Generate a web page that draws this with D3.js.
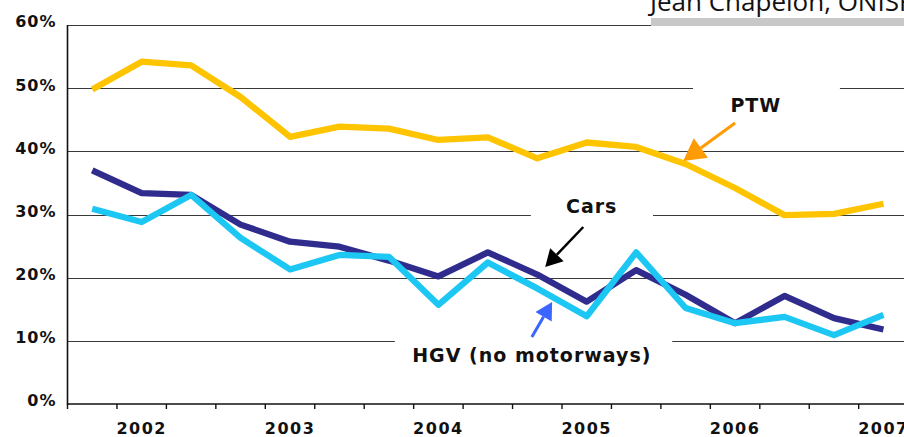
<!DOCTYPE html>
<html>
<head>
<meta charset="utf-8">
<script src="https://cdn.jsdelivr.net/npm/d3@7"></script>
<style>
  body { margin: 0; background: #fff; }
  svg { display: block; }
  .tick-label { font-family: 'DejaVu Sans', Verdana, sans-serif; font-weight: bold; fill: #111; }
  .note { font-family: 'DejaVu Sans', Verdana, sans-serif; font-weight: bold; fill: #111; }
</style>
</head>
<body>
<svg id="chart"></svg>
<script>
// periods (thirds of a year), 2001 T3 .. 2007 T1
const periods = ['2001-T3',
  '2002-T1','2002-T2','2002-T3',
  '2003-T1','2003-T2','2003-T3',
  '2004-T1','2004-T2','2004-T3',
  '2005-T1','2005-T2','2005-T3',
  '2006-T1','2006-T2','2006-T3',
  '2007-T1'];
const yearLabels = ['2002','2003','2004','2005','2006','2007'];
const yTicks = [0, 0.1, 0.2, 0.3, 0.4, 0.5, 0.6];

const ptw  = [49.8, 54.2, 53.6, 48.6, 42.3, 43.9, 43.6, 41.8, 42.2, 38.9, 41.4, 40.7, 38.0, 34.2, 29.9, 30.1, 31.7];
const cars = [37.0, 33.4, 33.1, 28.4, 25.7, 24.9, 22.7, 20.2, 24.0, 20.5, 16.2, 21.2, 17.3, 12.8, 17.1, 13.6, 11.8];
const hgv  = [30.9, 28.8, 33.1, 26.3, 21.3, 23.6, 23.3, 15.7, 22.4, 18.3, 13.9, 24.0, 15.2, 12.8, 13.8, 10.9, 14.1];

const series = [
  { name: 'PTW',  values: ptw,  color: '#FFC400' },
  { name: 'Cars', values: cars, color: '#2F2C8E' },
  { name: 'HGV',  values: hgv,  color: '#1DC7F3' }
];

const W = 904, H = 437;
const plotLeft = 67.5, plotTop = 25, plotBottom = 404;
const step = 49.45;

const svg = d3.select('#chart').attr('width', W).attr('height', H);

const x = d3.scaleBand()
  .domain(periods)
  .range([plotLeft, plotLeft + step * periods.length])
  .padding(0);

const y = d3.scaleLinear()
  .domain([0, 0.6])
  .range([plotBottom, plotTop]);

// fractional period index -> pixel (for annotations)
const xi = i => x(periods[0]) + (i + 0.5) * x.bandwidth();

// gridlines
svg.append('g')
  .selectAll('line')
  .data(yTicks.filter(d => d > 0))
  .join('line')
    .attr('x1', plotLeft).attr('x2', W)
    .attr('y1', d => Math.round(y(d)) + 0.5)
    .attr('y2', d => Math.round(y(d)) + 0.5)
    .attr('stroke', '#3a3a3a')
    .attr('stroke-width', 1.2);

// white boxes behind the annotations (they cut the gridlines)
const boxes = [
  { i0: 12.15, i1: 15.12, v0: 0.455, v1: 0.515 },
  { i0: 8.87,  i1: 11.34, v0: 0.29,  v1: 0.325 },
  { i0: 6.12,  i1: 11.73, v0: 0.055, v1: 0.12 }
];
svg.append('g')
  .selectAll('rect')
  .data(boxes)
  .join('rect')
    .attr('x', d => xi(d.i0))
    .attr('width', d => xi(d.i1) - xi(d.i0))
    .attr('y', d => y(d.v1))
    .attr('height', d => y(d.v0) - y(d.v1))
    .attr('fill', '#fff');

// source credit, cut off at top right
svg.append('rect')
  .attr('x', 651).attr('y', 18).attr('width', W - 651).attr('height', 8)
  .attr('fill', '#c8c8c8');
svg.append('text')
  .attr('x', 650).attr('y', 11)
  .style('font-family', "'Open Sans', sans-serif")
  .style('font-size', '26px')
  .attr('fill', '#111')
  .text('Jean Chapelon, ONISR');

// y axis
const yAxis = d3.axisLeft(y)
  .tickValues(yTicks)
  .tickFormat(d3.format('.0%'))
  .tickSize(0)
  .tickPadding(11);
const gy = svg.append('g')
  .attr('transform', `translate(${plotLeft},0)`)
  .call(yAxis);
gy.select('.domain').remove();
gy.selectAll('text')
  .attr('class', 'tick-label')
  .attr('dy', '0.12em')
  .style('font-size', '16px')
  .style('letter-spacing', '1px');

svg.append('line')
  .attr('x1', plotLeft).attr('x2', plotLeft)
  .attr('y1', plotTop).attr('y2', plotBottom + 1)
  .attr('stroke', '#111').attr('stroke-width', 1.6);

// x axis: ticks on the period boundaries, year labels under the first third
svg.append('line')
  .attr('x1', plotLeft).attr('x2', W)
  .attr('y1', plotBottom).attr('y2', plotBottom)
  .attr('stroke', '#111').attr('stroke-width', 1.6);

svg.append('g')
  .selectAll('line')
  .data(periods)
  .join('line')
    .attr('x1', d => x(d)).attr('x2', d => x(d))
    .attr('y1', plotBottom).attr('y2', plotBottom + 5)
    .attr('stroke', '#111').attr('stroke-width', 1.4);

const xAxis = d3.axisBottom(x)
  .tickValues(periods.filter(p => p.endsWith('T1')))
  .tickFormat(p => yearLabels[yearLabels.indexOf(p.slice(0, 4))])
  .tickSize(0)
  .tickPadding(19);
const gx = svg.append('g')
  .attr('transform', `translate(0,${plotBottom})`)
  .call(xAxis);
gx.select('.domain').remove();
gx.selectAll('text')
  .attr('class', 'tick-label')
  .style('font-size', '16px')
  .style('letter-spacing', '1.5px');

// lines
const line = d3.line()
  .x((d, i) => x(periods[i]) + x.bandwidth() / 2)
  .y(d => y(d / 100));

svg.append('g')
  .selectAll('path')
  .data(series)
  .join('path')
    .attr('d', d => line(d.values))
    .attr('fill', 'none')
    .attr('stroke', d => d.color)
    .attr('stroke-width', 6.3)
    .attr('stroke-linejoin', 'round')
    .attr('stroke-linecap', 'butt');

// annotations
const notes = [
  { text: 'PTW', i: 13.42, v: 0.4623, size: 19 },
  { text: 'Cars', i: 10.10, v: 0.3024, size: 19 },
  { text: 'HGV (no motorways)', i: 8.89, v: 0.0665, size: 19 }
];
svg.append('g')
  .selectAll('text')
  .data(notes)
  .join('text')
    .attr('class', 'note')
    .attr('x', d => xi(d.i))
    .attr('y', d => y(d.v))
    .attr('text-anchor', 'middle')
    .style('font-size', d => d.size + 'px')
    .style('letter-spacing', '1px')
    .text(d => d.text);

const arrows = [
  { from: [13.0, 0.4449], to: [11.95, 0.3847], color: '#FF9B05', width: 3,   head: 22 },
  { from: [9.93, 0.2802], to: [9.16, 0.2169],  color: '#000000', width: 2.5, head: 17 },
  { from: [8.89, 0.1061], to: [9.30, 0.1615],  color: '#3A66FF', width: 3,   head: 17 }
];
arrows.forEach(a => {
  const x1 = xi(a.from[0]), y1 = y(a.from[1]);
  const x2 = xi(a.to[0]),   y2 = y(a.to[1]);
  const ang = Math.atan2(y2 - y1, x2 - x1);
  const hl = a.head, hw = a.head * 0.55;
  const bx = x2 - hl * Math.cos(ang), by = y2 - hl * Math.sin(ang);
  svg.append('line')
    .attr('x1', x1).attr('y1', y1).attr('x2', bx).attr('y2', by)
    .attr('stroke', a.color).attr('stroke-width', a.width);
  const pts = [
    [x2, y2],
    [bx + hw * Math.sin(ang), by - hw * Math.cos(ang)],
    [bx - hw * Math.sin(ang), by + hw * Math.cos(ang)]
  ];
  svg.append('polygon')
    .attr('points', pts.map(p => p.join(',')).join(' '))
    .attr('fill', a.color);
});
</script>
</body>
</html>
